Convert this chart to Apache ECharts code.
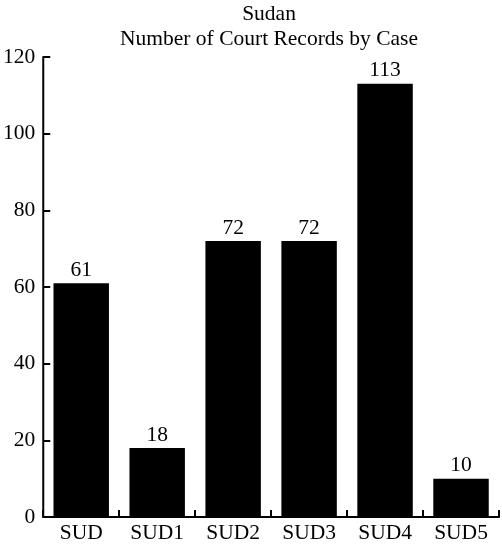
<!DOCTYPE html>
<html>
<head>
<meta charset="utf-8">
<script src="https://cdn.jsdelivr.net/npm/echarts@6/dist/echarts.min.js"></script>
<style>
  html, body { margin: 0; padding: 0; background: #fff; }
  #main { width: 502px; height: 547px; }
</style>
</head>
<body>
<div id="main"></div>
<script>
// data
var categories = ['SUD', 'SUD1', 'SUD2', 'SUD3', 'SUD4', 'SUD5'];
var records = [61, 18, 72, 72, 113, 10];
var yTicks = [0, 20, 40, 60, 80, 100, 120];

var myChart = echarts.init(document.getElementById('main'));
var font = 'Liberation Serif, Times New Roman, serif';

var option = {
    animation: false,
    title: {
        text: 'Sudan\nNumber of Court Records by Case',
        left: 264,
        textAlign: 'center',
        top: -3,
        textStyle: { fontFamily: font, fontWeight: 'normal', fontSize: 21.5, color: '#000', lineHeight: 25 }
    },
    grid: { left: 41, right: 3, top: 57, bottom: 30 },
    xAxis: {
        type: 'category',
        data: categories,
        axisLine: { lineStyle: { color: '#000', width: 2 } },
        axisTick: { show: true, inside: true, length: 7, lineStyle: { color: '#000', width: 2 } },
        axisLabel: { fontFamily: font, fontSize: 21.5, color: '#000', margin: 5 }
    },
    yAxis: {
        type: 'value',
        min: yTicks[0],
        max: yTicks[yTicks.length - 1],
        interval: 20,
        splitLine: { show: false },
        axisLine: { show: true, lineStyle: { color: '#000', width: 2 } },
        axisTick: { show: true, inside: true, length: 7, lineStyle: { color: '#000', width: 2 } },
        axisLabel: { fontFamily: font, fontSize: 21.5, color: '#000', margin: 8 }
    },
    series: [{
        type: 'bar',
        data: records,
        barWidth: '73%',
        itemStyle: { color: '#000' },
        label: { show: true, position: 'top', distance: 2, fontFamily: font, fontSize: 21.5, color: '#000' }
    }]
};

myChart.setOption(option);
</script>
</body>
</html>
